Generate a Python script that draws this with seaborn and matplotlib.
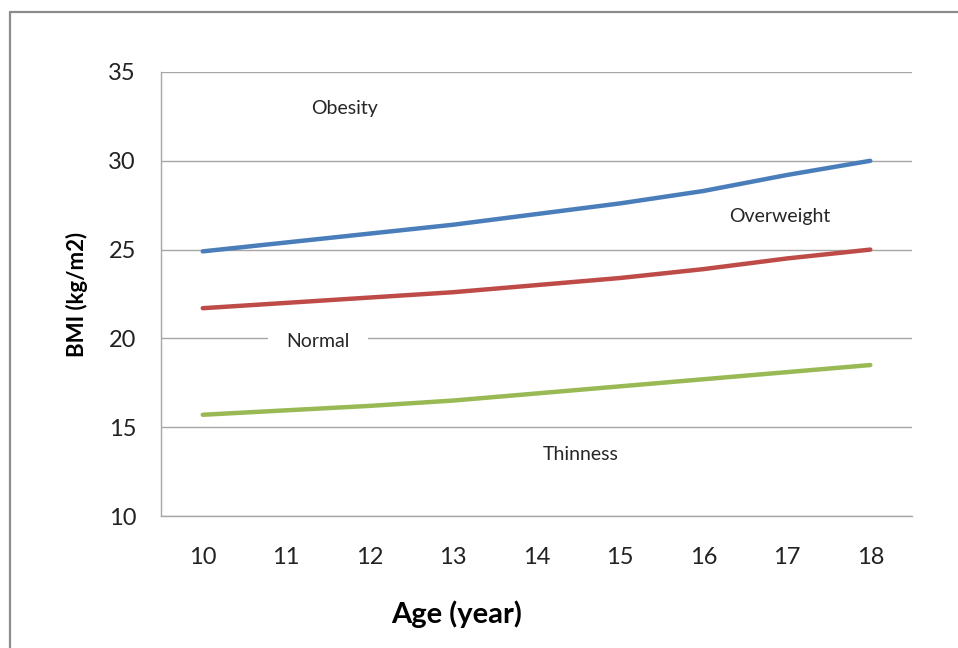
import matplotlib
matplotlib.use("Agg")
import matplotlib.pyplot as plt
import seaborn as sns
import pandas as pd

# BMI cut-off curves by age
ages = [10, 11, 12, 13, 14, 15, 16, 17, 18]
obesity_cut = [24.9, 25.4, 25.9, 26.4, 27.0, 27.6, 28.3, 29.2, 30.0]
overweight_cut = [21.7, 22.0, 22.3, 22.6, 23.0, 23.4, 23.9, 24.5, 25.0]
thinness_cut = [15.7, 15.95, 16.2, 16.5, 16.9, 17.3, 17.7, 18.1, 18.5]
series_names = ["Obesity cut-off", "Overweight cut-off", "Thinness cut-off"]
series_colors = ["#4A7EBB", "#BE4B48", "#98B954"]
y_ticks = [10, 15, 20, 25, 30, 35]

df = pd.DataFrame({
    "Age": ages * 3,
    "BMI": obesity_cut + overweight_cut + thinness_cut,
    "Series": [series_names[0]] * 9 + [series_names[1]] * 9 + [series_names[2]] * 9,
})

sns.set_theme(style="white")
plt.rcParams["font.family"] = ["Lato", "DejaVu Sans"]

fig = plt.figure(figsize=(9.58, 6.48), dpi=100)
ax = fig.add_axes([0.1681, 0.2037, 0.952 - 0.1681, 0.8889 - 0.2037])

sns.lineplot(data=df, x="Age", y="BMI", hue="Series", palette=series_colors,
             linewidth=3.2, legend=False, ax=ax, solid_capstyle="round")

ax.set_xlim(9.5, 18.5)
ax.set_ylim(10, 35)
ax.set_xticks(ages)
ax.set_yticks(y_ticks)
ax.tick_params(axis="both", length=0, labelsize=17, colors="#222222")
ax.tick_params(axis="x", pad=22)
ax.tick_params(axis="y", pad=18)
ax.yaxis.grid(True, color="#A6A6A6", linewidth=1.0)
ax.set_axisbelow(True)
for side in ["top", "right"]:
    ax.spines[side].set_visible(False)
for side in ["left", "bottom"]:
    ax.spines[side].set_color("#A6A6A6")
    ax.spines[side].set_linewidth(1.0)

ax.set_xlabel("Age (year)", fontsize=21, fontweight="bold", labelpad=24,
              color="black", x=0.394)
ax.set_ylabel("BMI (kg/m2)", fontsize=16, fontweight="bold", labelpad=15, color="black")

# zone labels
ax.text(11.70, 32.95, "Obesity", fontsize=14, ha="center", va="center")
ax.text(16.91, 26.85, "Overweight", fontsize=14, ha="center", va="center")
ax.text(11.38, 19.8, "Normal", fontsize=14, ha="center", va="center",
        bbox=dict(boxstyle="square,pad=0.95", fc="white", ec="none"))
ax.text(14.53, 13.45, "Thinness", fontsize=14, ha="center", va="center")

# outer frame lines
fig.add_artist(plt.Line2D([10 / 958, 10 / 958], [0, 1 - 12 / 648], color="#8C8C8C", linewidth=1.6))
fig.add_artist(plt.Line2D([10 / 958, 1], [1 - 12 / 648, 1 - 12 / 648], color="#8C8C8C", linewidth=1.6))

fig.savefig("out.png", dpi=100, facecolor="white")
